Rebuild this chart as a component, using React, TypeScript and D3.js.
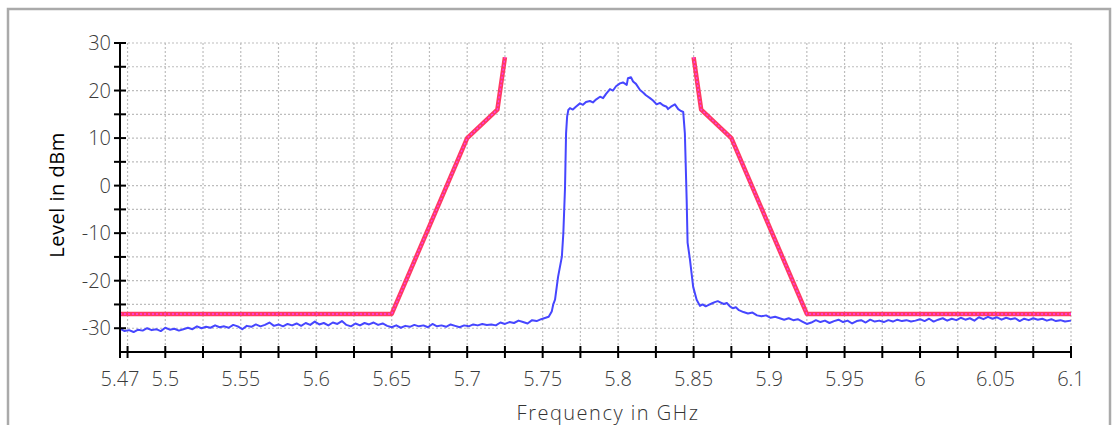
import React from "react";
import * as d3 from "d3";

// ---- Data ----
const xLabelTicks = [5.47, 5.5, 5.55, 5.6, 5.65, 5.7, 5.75, 5.8, 5.85, 5.9, 5.95, 6, 6.05, 6.1];
const xMinorTicks = [5.47, 5.475, 5.5, 5.525, 5.55, 5.575, 5.6, 5.625, 5.65, 5.675, 5.7, 5.725, 5.75, 5.775, 5.8, 5.825, 5.85, 5.875, 5.9, 5.925, 5.95, 5.975, 6, 6.025, 6.05, 6.075, 6.1];
const yLabelTicks = [30, 20, 10, 0, -10, -20, -30];
const yMinorTicks = [30, 25, 20, 15, 10, 5, 0, -5, -10, -15, -20, -25, -30];

const maskLeft: [number, number][] = [
  [5.47, -27], [5.65, -27], [5.7, 10], [5.72, 16], [5.725, 27],
];
const maskRight: [number, number][] = [
  [5.85, 27], [5.855, 16], [5.875, 10], [5.925, -27], [6.1, -27],
];

const floorLeft: [number, number][] = [
  [5.47, -30.1], [5.473, -30.6], [5.476, -30.4], [5.479, -30.8], [5.482, -30.3], [5.485, -30.5],
  [5.488, -30.0], [5.491, -30.4], [5.494, -30.2], [5.497, -30.6], [5.5, -29.9], [5.503, -30.3],
  [5.506, -30.1], [5.509, -30.5], [5.512, -30.2], [5.515, -29.9], [5.518, -30.2], [5.521, -29.6],
  [5.524, -30.0], [5.527, -29.7], [5.53, -29.9], [5.533, -29.4], [5.536, -29.8], [5.539, -29.6],
  [5.542, -29.9], [5.545, -29.3], [5.548, -29.6], [5.551, -30.2], [5.554, -29.5], [5.557, -29.7],
  [5.56, -29.2], [5.563, -29.6], [5.566, -29.3], [5.569, -28.8], [5.572, -29.5], [5.575, -29.2],
  [5.578, -29.6], [5.581, -29.1], [5.584, -29.4], [5.587, -29.0], [5.59, -29.5], [5.593, -28.9],
  [5.596, -29.3], [5.599, -28.6], [5.602, -29.2], [5.605, -28.9], [5.608, -29.4], [5.611, -28.8],
  [5.614, -29.1], [5.617, -28.5], [5.62, -29.3], [5.623, -29.6], [5.626, -29.0], [5.629, -29.4],
  [5.632, -28.9], [5.635, -29.2], [5.638, -28.8], [5.641, -29.3], [5.644, -29.0], [5.647, -29.5],
  [5.65, -29.8], [5.653, -29.4], [5.656, -29.9], [5.659, -29.5], [5.662, -29.7], [5.665, -29.3],
  [5.668, -29.6], [5.671, -29.4], [5.674, -29.8], [5.677, -29.1], [5.68, -29.6], [5.683, -29.4],
  [5.686, -29.7], [5.689, -29.2], [5.692, -29.5], [5.695, -29.8], [5.698, -29.4], [5.701, -29.6],
  [5.704, -29.2], [5.707, -29.4], [5.71, -29.1], [5.713, -29.3], [5.716, -29.2], [5.719, -29.4],
  [5.722, -28.8], [5.725, -29.1], [5.728, -28.7], [5.731, -28.9], [5.734, -28.4], [5.737, -28.7],
  [5.74, -29.0], [5.743, -28.3], [5.746, -28.5], [5.749, -28.1], [5.752, -27.8], [5.754, -27.6],
];

const signal: [number, number][] = [
  [5.756, -26.5], [5.757, -25.0], [5.7582, -24.0], [5.7602, -19.2], [5.7627, -15.0], [5.7637, -10.0],
  [5.7648, -0.5], [5.7655, 11.0], [5.7662, 14.5], [5.767, 15.9], [5.7681, 16.3], [5.77, 16.0],
  [5.772, 16.6], [5.7747, 17.3], [5.7767, 17.0], [5.7787, 17.6], [5.7813, 17.8], [5.7833, 17.5],
  [5.7853, 18.1], [5.788, 18.7], [5.79, 18.4], [5.792, 19.3], [5.7946, 20.3], [5.7966, 20.0],
  [5.7986, 20.9], [5.8012, 21.5], [5.8032, 21.7], [5.8057, 21.2], [5.8065, 22.6], [5.8085, 22.8],
  [5.8099, 21.9], [5.8118, 21.4], [5.8145, 20.1], [5.8165, 19.6], [5.8184, 19.0], [5.8211, 18.4],
  [5.8231, 17.9], [5.8255, 17.1], [5.8277, 17.4], [5.8297, 16.9], [5.8321, 16.6], [5.833, 16.1],
  [5.835, 16.6], [5.8376, 17.1], [5.8398, 16.1], [5.8416, 15.7], [5.8431, 15.5], [5.8442, 11.0],
  [5.8454, -3.0], [5.846, -12.0], [5.8476, -15.6], [5.8497, -21.3], [5.852, -24.0], [5.8542, -25.3],
];

const floorRight: [number, number][] = [
  [5.856, -25.0], [5.858, -25.4], [5.86, -25.1], [5.862, -24.8], [5.864, -24.5], [5.866, -24.3],
  [5.868, -24.6], [5.87, -24.9], [5.872, -24.7], [5.874, -25.4], [5.876, -25.8], [5.878, -25.6],
  [5.88, -26.2], [5.883, -26.6], [5.886, -26.9], [5.889, -26.7], [5.892, -27.3], [5.895, -27.5],
  [5.898, -27.3], [5.901, -27.8], [5.904, -27.6], [5.907, -27.9], [5.91, -28.2], [5.913, -27.9],
  [5.916, -28.3], [5.919, -28.1], [5.922, -28.6], [5.925, -29.1], [5.928, -28.8], [5.931, -28.3],
  [5.934, -28.7], [5.937, -28.4], [5.94, -28.9], [5.943, -28.5], [5.946, -28.2], [5.949, -28.7],
  [5.952, -28.4], [5.955, -29.0], [5.958, -28.5], [5.961, -28.3], [5.964, -28.8], [5.967, -28.2],
  [5.97, -28.6], [5.973, -28.4], [5.976, -28.7], [5.979, -28.3], [5.982, -28.6], [5.985, -28.2],
  [5.988, -28.5], [5.991, -28.3], [5.994, -28.6], [5.997, -28.4], [6.0, -28.1], [6.003, -28.5],
  [6.006, -28.0], [6.009, -28.6], [6.012, -28.2], [6.015, -27.9], [6.018, -28.4], [6.021, -28.0],
  [6.024, -28.3], [6.027, -27.8], [6.03, -28.2], [6.033, -27.9], [6.036, -28.4], [6.039, -27.7],
  [6.042, -28.1], [6.045, -27.6], [6.048, -28.0], [6.051, -27.7], [6.054, -28.2], [6.057, -27.8],
  [6.06, -28.1], [6.063, -27.9], [6.066, -28.5], [6.069, -28.0], [6.072, -28.3], [6.075, -27.9],
  [6.078, -28.2], [6.081, -28.0], [6.084, -28.4], [6.087, -28.1], [6.09, -28.5], [6.093, -28.3],
  [6.096, -28.6], [6.1, -28.4],
];

const xTitle = "Frequency in GHz";
const yTitle = "Level in dBm";

// ---- Layout ----
const W = 1118;
const H = 425;
const FONT = "'Open Sans', 'DejaVu Sans', sans-serif";

export default function App() {
  const x = d3.scaleLinear().domain([5.47, 6.1]).range([120, 1071]);
  const y = d3.scaleLinear().domain([-35, 30]).range([352, 43]);

  const line = d3
    .line<[number, number]>()
    .x((d) => x(d[0]))
    .y((d) => y(d[1]));

  const trace = [...floorLeft, ...signal, ...floorRight];
  const x0 = x.range()[0];
  const x1 = x.range()[1];
  const yTop = y(30);
  const yBot = y.range()[0];

  const fmt = (v: number) => String(v);

  return (
    <svg
      width={W}
      height={H}
      style={{ position: "absolute", left: 0, top: 0, background: "#fff" }}
      fontFamily={FONT}
    >
      <rect x={8} y={9} width={1102} height={440} fill="#fff" stroke="#aaaaaa" strokeWidth={2.5} />

      {/* grid */}
      <g stroke="#bdbdbd" strokeWidth={1.2} strokeDasharray="2,2">
        {yMinorTicks.map((v) => (
          <line key={"gy" + v} x1={x0} x2={x1} y1={y(v)} y2={y(v)} />
        ))}
        {xMinorTicks.filter((v) => v > 5.47).map((v) => (
          <line key={"gx" + v} x1={x(v)} x2={x(v)} y1={yTop} y2={yBot} />
        ))}
      </g>

      {/* mask */}
      {[maskLeft, maskRight].map((m, i) => (
        <g key={"m" + i} fill="none">
          <path d={line(m) || ""} stroke="#ff3a62" strokeWidth={4.5} strokeLinejoin="round" />
          <path d={line(m) || ""} stroke="#ff3cf0" strokeWidth={1.4} strokeDasharray="2,2" />
        </g>
      ))}

      {/* trace */}
      <path d={line(trace) || ""} fill="none" stroke="#4646ff" strokeWidth={2} strokeLinejoin="round" />

      {/* axes */}
      <g stroke="#000" strokeWidth={2}>
        <line x1={x0} x2={x0} y1={yTop} y2={yBot + 1} />
        <line x1={x0 - 1} x2={x1 + 1} y1={yBot} y2={yBot} />
        {yMinorTicks.map((v) => (
          <line key={"ty" + v} x1={x0 - 6} x2={x0 + 6} y1={y(v)} y2={y(v)} />
        ))}
        {xMinorTicks.map((v) => (
          <line key={"tx" + v} x1={x(v)} x2={x(v)} y1={yBot - 6} y2={yBot + 6} />
        ))}
      </g>

      {/* tick labels */}
      <g fill="#3a3a3a" fontSize={20} fontWeight={300}>
        {yLabelTicks.map((v) => (
          <text key={"ly" + v} x={x0 - 9} y={y(v)} dy="0.36em" textAnchor="end">
            {fmt(v)}
          </text>
        ))}
        {xLabelTicks.map((v) => (
          <text key={"lx" + v} x={x(v)} y={386} textAnchor="middle">
            {fmt(v)}
          </text>
        ))}
      </g>

      {/* titles */}
      <text x={608} y={420} textAnchor="middle" fontSize={20} fill="#333" letterSpacing={1.5} fontWeight={300}>
        {xTitle}
      </text>
      <text
        transform={`translate(64,195) rotate(-90)`}
        textAnchor="middle"
        fontSize={20}
        fill="#000"
        letterSpacing={0.5}
      >
        {yTitle}
      </text>
    </svg>
  );
}
